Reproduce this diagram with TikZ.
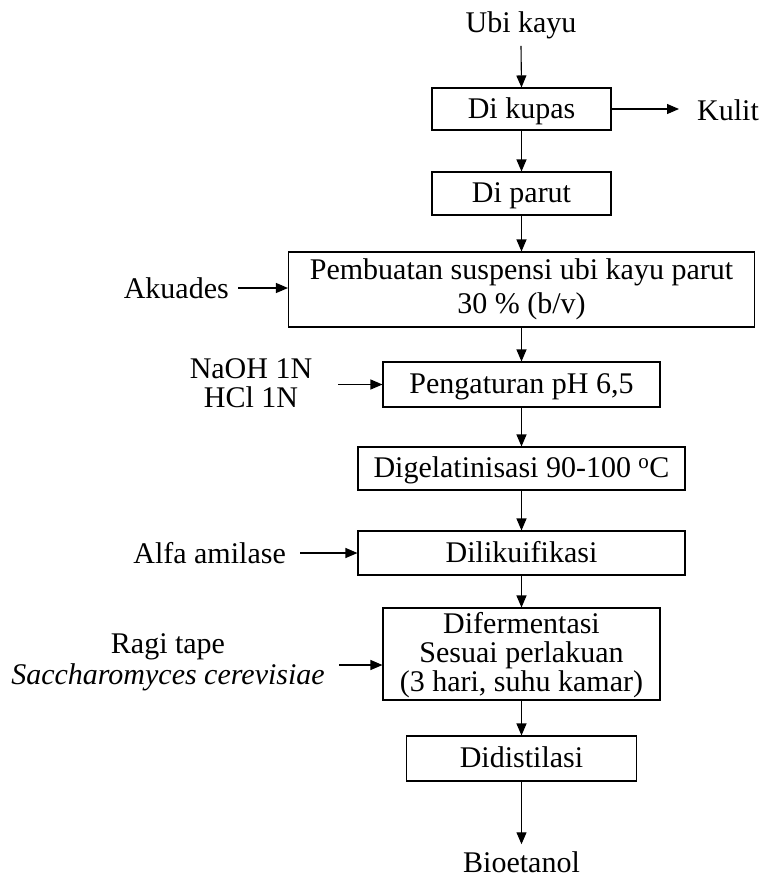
\documentclass[tikz,border=0pt]{standalone}
\usepackage{fontspec}
\setmainfont{Liberation Serif}
\usetikzlibrary{arrows.meta}
\begin{document}
\begin{tikzpicture}[x=1pt,y=-1pt,
  every node/.style={font=\fontsize{30}{31}\selectfont},
  box/.style={draw,line width=1.1pt,minimum height=#1,inner sep=0pt,align=center},
  one/.style={text height=22pt,text depth=4pt},
  lbl/.style={inner sep=0pt,align=center},
  arr/.style={line width=1.1pt,-{Triangle[length=12pt,width=10pt]}}]
\useasboundingbox (0,0) rectangle (762,884);
\node[lbl] (ubi) at (521,25) {Ubi kayu};
\node[box=42pt,one,minimum width=179pt] (kupas) at (521.5,109) {Di kupas};
\node[lbl,anchor=west] (kulit) at (697,110.5) {Kulit};
\node[box=43pt,one,minimum width=179pt] (parut) at (521.5,193.5) {Di parut};
\node[box=75pt,minimum width=466pt] (pemb) at (521.5,289.5) {Pembuatan suspensi ubi kayu parut\\[3pt]30~\% (b/v)};
\node[lbl,anchor=east] (akua) at (229,288) {Akuades};
\node[box=45pt,one,minimum width=277pt] (peng) at (521.5,384.5) {Pengaturan pH 6,5};
\node[lbl,font=\fontsize{30}{29}\selectfont] (naoh) at (251,383.5) {NaOH 1N\\HCl 1N};
\node[box=43pt,one,minimum width=327pt] (gel) at (521.5,468.5) {Digelatinisasi 90-100 $^{\mathrm{o}}$C};
\node[box=44pt,one,minimum width=327pt] (lik) at (521.5,553) {Dilikuifikasi};
\node[lbl,anchor=east] (alfa) at (286,553) {Alfa amilase};
\node[box=92pt,minimum width=277pt] (ferm) at (521.5,654) {};
\node[lbl,font=\fontsize{30}{29}\selectfont] (fermtxt) at (521.5,655) {Difermentasi\\Sesuai perlakuan\\(3 hari, suhu kamar)};
\node[lbl] (ragi) at (168,662) {Ragi tape\\\itshape Saccharomyces cerevisiae};
\node[box=45pt,one,minimum width=230pt] (dist) at (521.5,758.5) {Didistilasi};
\node[lbl] (bio) at (521.5,862) {Bioetanol};
\coordinate (kulitend) at (679,109);
\coordinate (akuastart) at (238,288);
\coordinate (naohstart) at (338,384.5);
\coordinate (alfastart) at (300,553);
\coordinate (ragistart) at (339,665);
\draw[arr] (ubi.south) ++(0,7) -- (kupas.north);
\draw[arr] (kupas.east) -- (kulitend);
\draw[arr] (kupas) -- (parut);
\draw[arr] (parut) -- (pemb);
\draw[arr] (akuastart) -- (akuastart -| pemb.west);
\draw[arr] (pemb) -- (peng);
\draw[arr] (naohstart) -- (peng.west);
\draw[arr] (peng) -- (gel);
\draw[arr] (gel) -- (lik);
\draw[arr] (alfastart) -- (alfastart -| lik.west);
\draw[arr] (lik) -- (ferm);
\draw[arr] (ragistart) -- (ragistart -| ferm.west);
\draw[arr] (ferm) -- (dist);
\draw[arr,shorten >=7pt] (dist) -- (bio);
\end{tikzpicture}
\end{document}
